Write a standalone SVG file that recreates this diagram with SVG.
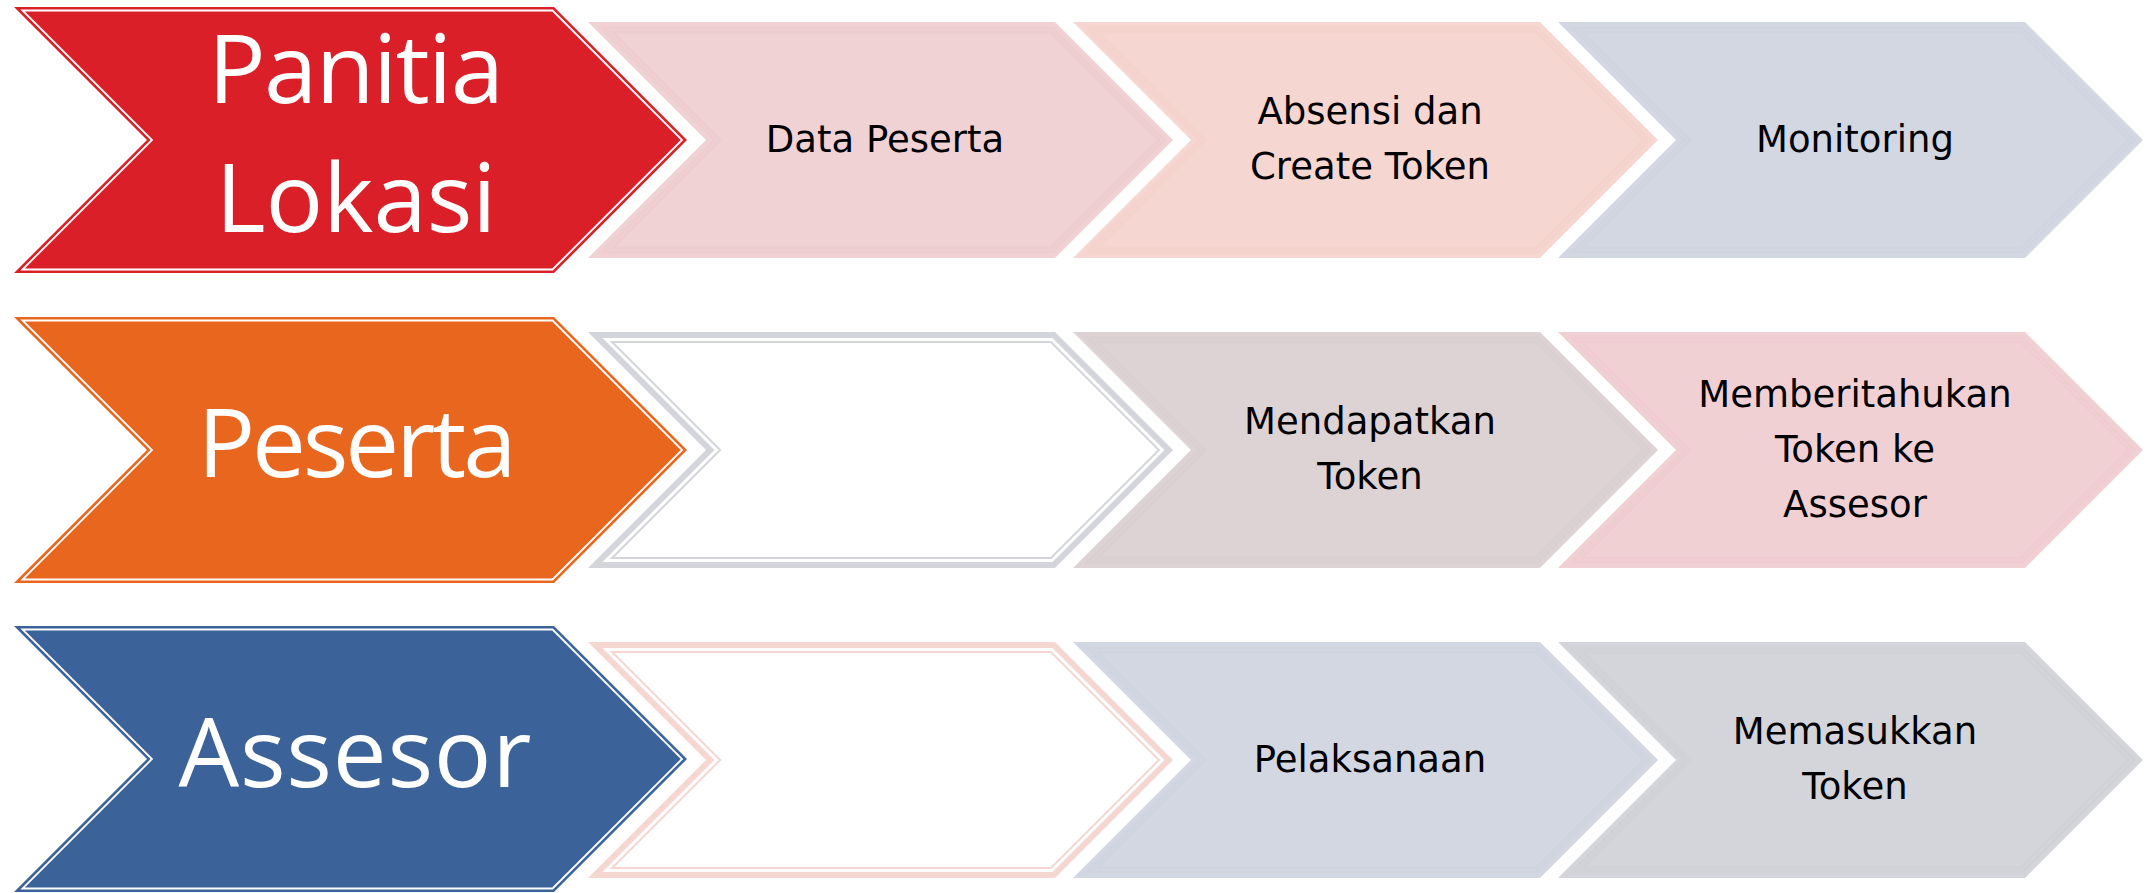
<svg xmlns="http://www.w3.org/2000/svg" xmlns:xlink="http://www.w3.org/1999/xlink" width="2146" height="893" viewBox="0 0 2146 893">
  <style>
    .big { font-family: "Open Sans", "Noto Sans", sans-serif; font-size: 96px; fill: #FFFFFF; text-anchor: middle; }
    .sm { font-family: "DejaVu Sans", "Liberation Sans", sans-serif; font-size: 37px; fill: #000000; text-anchor: middle; }
    .wline { fill: none; stroke: #FFFFFF; stroke-width: 1.8; }
    .faint { fill: none; stroke-width: 3; stroke-opacity: 0.12; }
  </style>
  <defs>
    <path id="bigC" d="M0,-133 H540 L673,0 L540,133 H0 L133,0 Z"/>
    <path id="bigIn" d="M8.45,-129.5 H538.55 L668.05,0 L538.55,129.5 H8.45 L137.95,0 Z"/>
    <path id="smC" d="M0,-118 H467 L585,0 L467,118 H0 L118,0 Z"/>
    <path id="sm6" d="M14.5,-112 H464.5 L576.5,0 L464.5,112 H14.5 L126.5,0 Z"/>
    <path id="sm10" d="M24.1,-108 H462.9 L570.9,0 L462.9,108 H24.1 L132.1,0 Z"/>
  </defs>
  <rect width="2146" height="893" fill="#FFFFFF"/>

  <!-- Row 1 -->
  <g id="panitia-lokasi" transform="translate(14,140)">
    <use xlink:href="#bigC" fill="#DA1F28"/>
    <use xlink:href="#bigIn" class="wline"/>
    <text class="big" x="342" y="-37" textLength="296" lengthAdjust="spacing">Panitia</text>
    <text class="big" x="342" y="92" textLength="281" lengthAdjust="spacing">Lokasi</text>
  </g>
  <g id="data-peserta" transform="translate(588,140)">
    <use xlink:href="#smC" fill="#F0D1D4"/>
    <use xlink:href="#sm6" class="faint" stroke="#E8B8BC"/>
    <use xlink:href="#sm10" class="faint" stroke="#E8B8BC"/>
    <text class="sm" x="297" y="12">Data Peserta</text>
  </g>
  <g id="absensi" transform="translate(1073,140)">
    <use xlink:href="#smC" fill="#F6D6D1"/>
    <use xlink:href="#sm6" class="faint" stroke="#EDBDB5"/>
    <use xlink:href="#sm10" class="faint" stroke="#EDBDB5"/>
    <text class="sm" x="297" y="-16">Absensi dan</text>
    <text class="sm" x="297" y="39">Create Token</text>
  </g>
  <g id="monitoring" transform="translate(1558,140)">
    <use xlink:href="#smC" fill="#D3D7E2"/>
    <use xlink:href="#sm6" class="faint" stroke="#BCC2D4"/>
    <use xlink:href="#sm10" class="faint" stroke="#BCC2D4"/>
    <text class="sm" x="297" y="12">Monitoring</text>
  </g>

  <!-- Row 2 -->
  <g id="peserta" transform="translate(14,450)">
    <use xlink:href="#bigC" fill="#E9661E"/>
    <use xlink:href="#bigIn" class="wline"/>
    <text class="big" x="343" y="27" textLength="319" lengthAdjust="spacing">Peserta</text>
  </g>
  <g id="peserta-empty" transform="translate(588,450)">
    <use xlink:href="#smC" fill="#D4D5DA"/>
    <use xlink:href="#sm6" fill="#FFFFFF"/>
    <use xlink:href="#sm10" fill="none" stroke="#D4D5DA" stroke-width="2"/>
  </g>
  <g id="mendapatkan-token" transform="translate(1073,450)">
    <use xlink:href="#smC" fill="#DDD3D4"/>
    <use xlink:href="#sm6" class="faint" stroke="#C8B8BA"/>
    <use xlink:href="#sm10" class="faint" stroke="#C8B8BA"/>
    <text class="sm" x="297" y="-16">Mendapatkan</text>
    <text class="sm" x="297" y="39">Token</text>
  </g>
  <g id="memberitahukan" transform="translate(1558,450)">
    <use xlink:href="#smC" fill="#F1D0D4"/>
    <use xlink:href="#sm6" class="faint" stroke="#E8B8BC"/>
    <use xlink:href="#sm10" class="faint" stroke="#E8B8BC"/>
    <text class="sm" x="297" y="-43">Memberitahukan</text>
    <text class="sm" x="297" y="12">Token ke</text>
    <text class="sm" x="297" y="67">Assesor</text>
  </g>

  <!-- Row 3 -->
  <g id="assesor" transform="translate(14,759)">
    <use xlink:href="#bigC" fill="#3B6399"/>
    <use xlink:href="#bigIn" class="wline"/>
    <text class="big" x="341" y="28" textLength="353" lengthAdjust="spacing">Assesor</text>
  </g>
  <g id="assesor-empty" transform="translate(588,760)">
    <use xlink:href="#smC" fill="#F5D6D1"/>
    <use xlink:href="#sm6" fill="#FFFFFF"/>
    <use xlink:href="#sm10" fill="none" stroke="#F5D6D1" stroke-width="2"/>
  </g>
  <g id="pelaksanaan" transform="translate(1073,760)">
    <use xlink:href="#smC" fill="#D3D7E2"/>
    <use xlink:href="#sm6" class="faint" stroke="#BCC2D4"/>
    <use xlink:href="#sm10" class="faint" stroke="#BCC2D4"/>
    <text class="sm" x="297" y="12">Pelaksanaan</text>
  </g>
  <g id="memasukkan-token" transform="translate(1558,760)">
    <use xlink:href="#smC" fill="#D4D5DA"/>
    <use xlink:href="#sm6" class="faint" stroke="#BDBEC5"/>
    <use xlink:href="#sm10" class="faint" stroke="#BDBEC5"/>
    <text class="sm" x="297" y="-16">Memasukkan</text>
    <text class="sm" x="297" y="39">Token</text>
  </g>

  <g id="connectors"></g>
</svg>
